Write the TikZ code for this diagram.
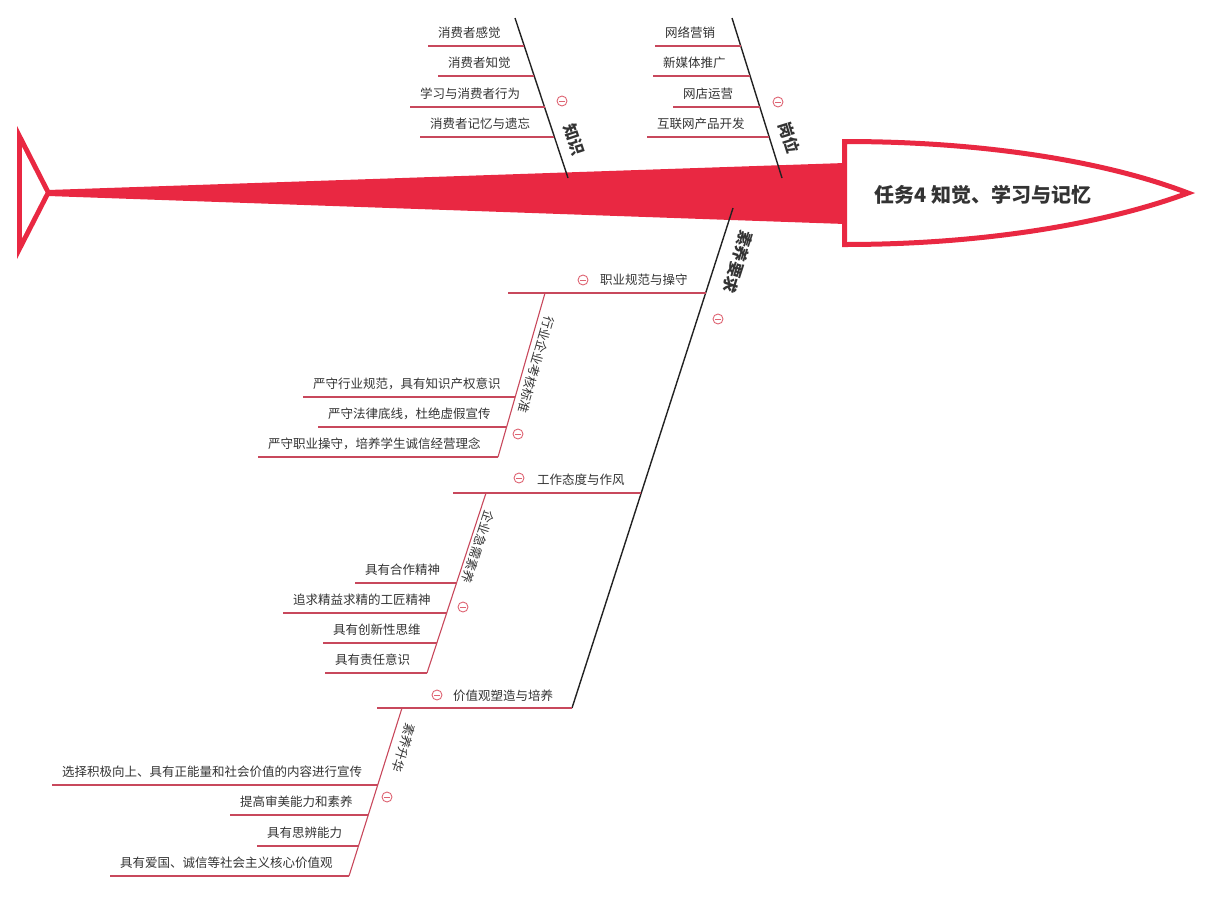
\documentclass[tikz,border=0pt]{standalone}
\usepackage{fontspec}
\newfontfamily\cjk{Noto Sans CJK SC}
\definecolor{fishred}{RGB}{233,40,66}
\definecolor{subred}{RGB}{200,72,92}
\definecolor{txt}{RGB}{51,51,51}
\definecolor{bonecol}{RGB}{34,34,34}
\definecolor{mincol}{RGB}{222,100,115}
\begin{document}
\begin{tikzpicture}[x=1pt,y=-1pt,
  bone/.style={draw=bonecol, line width=1.4pt},
  subline/.style={draw=subred, line width=1.1pt},
  item/.style={font=\cjk\fontsize{12.5}{15}\selectfont, text=txt, inner sep=0pt, anchor=west},
  bonelabel/.style={font=\cjk\bfseries\fontsize{16}{18}\selectfont, text=txt, inner sep=0pt},
  sublabel/.style={font=\cjk\fontsize{12.5}{15}\selectfont, text=txt, inner sep=0pt},
  titlelabel/.style={font=\cjk\bfseries\fontsize{20}{24}\selectfont, text=txt, inner sep=0pt},
  minus/.style={circle, draw=mincol, line width=0.9pt, minimum size=10pt, inner sep=0pt,
    path picture={\draw[mincol, line width=0.9pt] ([xshift=-2.6pt]path picture bounding box.center) -- ([xshift=2.6pt]path picture bounding box.center);}}
]
\useasboundingbox (0,0) rectangle (1209,897);

% spine
\fill[fishred] (48,190) -- (845,163) -- (845,224) -- (48,196) -- cycle;
% tail
\fill[fishred] (17,126) -- (51,192.5) -- (17,259) -- cycle;
\fill[white] (22,146.8) -- (45.4,192.5) -- (22,238.2) -- cycle;
% head
\draw[draw=fishred, line width=5pt, fill=white, line join=miter]
  (844.5,141.5) .. controls (990,141.5) and (1110,163) .. (1188,193)
  .. controls (1110,222) and (990,244.5) .. (844.5,244.5) -- cycle;
\node[titlelabel] (title) at (983,195) {任务4 知觉、学习与记忆};

% ---- bone: 知识
\coordinate (k1) at (515,18); \coordinate (k2) at (568,178);
\draw[bone] (k1) -- (k2);
\node[bonelabel, rotate=-71.7] (klabel) at (574,140) {知识};
\node[minus] (km) at (562,101) {};
\draw[subline] (428,46) coordinate (ka1) -- (524.3,46) coordinate (kb1);
\node[item] (kt1) at (438,33) {消费者感觉};
\draw[subline] (438,76) coordinate (ka2) -- (534.2,76) coordinate (kb2);
\node[item] (kt2) at (448,63) {消费者知觉};
\draw[subline] (410,107) coordinate (ka3) -- (544.5,107) coordinate (kb3);
\node[item] (kt3) at (420,94) {学习与消费者行为};
\draw[subline] (420,137) coordinate (ka4) -- (554.4,137) coordinate (kb4);
\node[item] (kt4) at (430,124) {消费者记忆与遗忘};

% ---- bone: 岗位
\coordinate (g1) at (732,18); \coordinate (g2) at (782,178);
\draw[bone] (g1) -- (g2);
\node[bonelabel, rotate=-72.6] (glabel) at (789,138) {岗位};
\node[minus] (gm) at (778,102) {};
\draw[subline] (655,46) coordinate (ga1) -- (740.8,46) coordinate (gb1);
\node[item] (gt1) at (665,33) {网络营销};
\draw[subline] (653,76) coordinate (ga2) -- (750.1,76) coordinate (gb2);
\node[item] (gt2) at (663,63) {新媒体推广};
\draw[subline] (673,107) coordinate (ga3) -- (759.8,107) coordinate (gb3);
\node[item] (gt3) at (683,94) {网店运营};
\draw[subline] (647,137) coordinate (ga4) -- (769.2,137) coordinate (gb4);
\node[item] (gt4) at (657,124) {互联网产品开发};

% ---- bone: 素养要求
\coordinate (s1) at (733,208); \coordinate (s2) at (572,708);
\draw[bone] (s1) -- (s2);
\node[bonelabel, rotate=-107.8] (slabel) at (738,262) {素养要求};
\node[minus] (sm) at (718,319) {};

% 职业规范与操守
\draw[subline] (508,293) coordinate (sa1) -- (705.6,293) coordinate (sb1);
\node[minus] (sm1) at (583,280) {};
\node[item] (st1) at (600,280) {职业规范与操守};
\coordinate (p1a) at (545,293); \coordinate (p1b) at (498,457);
\draw[subline] (p1a) -- (p1b);
\node[sublabel, rotate=-106] (p1label) at (536,365) {行业企业考核标准};
\node[minus] (p1m) at (518,434) {};
\draw[subline] (303,397) coordinate (pa1) -- (515.2,397) coordinate (pb1);
\node[item] (pt1) at (313,384) {严守行业规范，具有知识产权意识};
\draw[subline] (318,427) coordinate (pa2) -- (506.6,427) coordinate (pb2);
\node[item] (pt2) at (328,414) {严守法律底线，杜绝虚假宣传};
\draw[subline] (258,457) coordinate (pa3) -- (p1b);
\node[item] (pt3) at (268,444) {严守职业操守，培养学生诚信经营理念};

% 工作态度与作风
\draw[subline] (453,493) coordinate (sa2) -- (641.2,493) coordinate (sb2);
\node[minus] (sm2) at (519,478) {};
\node[item] (st2) at (537,480) {工作态度与作风};
\coordinate (q1a) at (486,493); \coordinate (q1b) at (427,673);
\draw[subline] (q1a) -- (q1b);
\node[sublabel, rotate=-108] (q1label) at (478,547) {企业急需素养};
\node[minus] (q1m) at (463,607) {};
\draw[subline] (355,583) coordinate (qa1) -- (456.5,583) coordinate (qb1);
\node[item] (qt1) at (365,570) {具有合作精神};
\draw[subline] (283,613) coordinate (qa2) -- (446.7,613) coordinate (qb2);
\node[item] (qt2) at (293,600) {追求精益求精的工匠精神};
\draw[subline] (323,643) coordinate (qa3) -- (436.8,643) coordinate (qb3);
\node[item] (qt3) at (333,630) {具有创新性思维};
\draw[subline] (325,673) coordinate (qa4) -- (q1b);
\node[item] (qt4) at (335,660) {具有责任意识};

% 价值观塑造与培养
\draw[subline] (377,708) coordinate (sa3) -- (s2);
\node[minus] (sm3) at (437,695) {};
\node[item] (st3) at (453,696) {价值观塑造与培养};
\coordinate (r1a) at (402,708); \coordinate (r1b) at (349,876);
\draw[subline] (r1a) -- (r1b);
\node[sublabel, rotate=-107.5] (r1label) at (404,748) {素养升华};
\node[minus] (r1m) at (387,797) {};
\draw[subline] (52,785) coordinate (ra1) -- (377.7,785) coordinate (rb1);
\node[item] (rt1) at (62,772) {选择积极向上、具有正能量和社会价值的内容进行宣传};
\draw[subline] (230,815) coordinate (ra2) -- (368.2,815) coordinate (rb2);
\node[item] (rt2) at (240,802) {提高审美能力和素养};
\draw[subline] (257,846) coordinate (ra3) -- (358.5,846) coordinate (rb3);
\node[item] (rt3) at (267,833) {具有思辨能力};
\draw[subline] (110,876) coordinate (ra4) -- (r1b);
\node[item] (rt4) at (120,863) {具有爱国、诚信等社会主义核心价值观};
\end{tikzpicture}
\end{document}
